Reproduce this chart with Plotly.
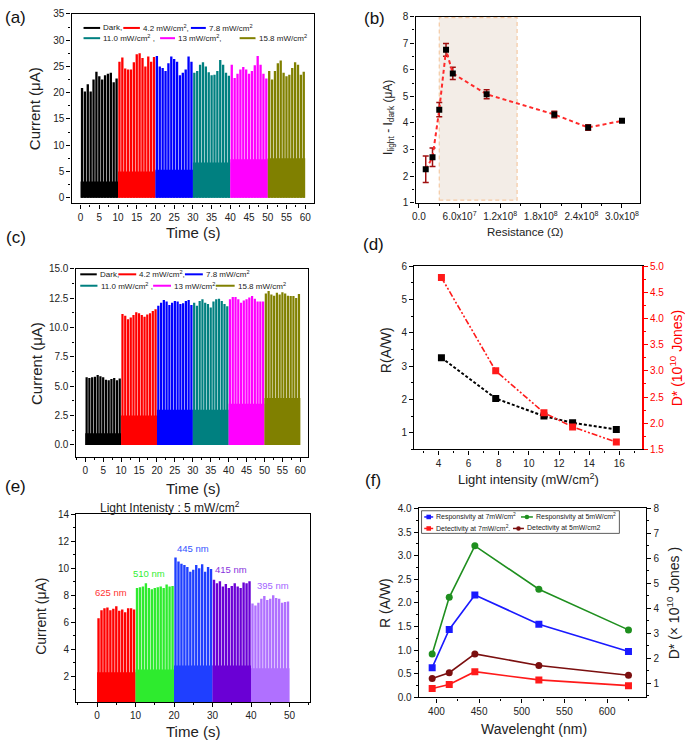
import plotly.graph_objects as go

W, H = 685, 747
FONT = "Liberation Sans"

# ------------------------------------------------------------------ data
# (a) pulse peaks (uA) for each 10 s segment, baseline level under pulses
a_dark = [20.9, 20.2, 21.6, 20.2, 22.5, 24.0, 23.1, 22.5, 23.3, 23.6, 23.8, 22.0, 22.7]
a_42 = [25.9, 26.7, 24.6, 24.4, 24.4, 25.8, 27.3, 27.5, 26.6, 25.0, 26.9, 25.9, 26.8]
a_78 = [27.0, 25.0, 24.7, 24.1, 25.6, 26.9, 26.4, 25.9, 23.3, 23.8, 24.4, 26.9, 25.9]
a_110 = [23.8, 24.1, 25.3, 25.8, 25.0, 23.9, 23.3, 23.4, 24.1, 26.2, 25.3, 23.8, 23.2]
a_13 = [25.3, 22.8, 23.6, 24.4, 24.9, 24.4, 23.6, 24.1, 25.2, 27.0, 25.3, 23.6, 22.7]
a_158 = [24.1, 22.5, 24.1, 25.6, 26.1, 23.8, 23.1, 23.4, 24.7, 25.8, 25.3, 23.4, 24.0]
a_base = [3.1, 5.0, 5.3, 6.7, 7.3, 7.5]

# (c)
c_dark = [5.75, 5.7, 5.75, 5.8, 5.95, 5.85, 5.75, 5.55, 5.5, 5.6, 5.7, 5.5, 5.65]
c_42 = [11.15, 11.0, 10.7, 10.85, 11.05, 11.3, 11.2, 11.05, 10.9, 11.1, 11.2, 11.4, 11.55]
c_78 = [11.85, 12.1, 12.33, 12.2, 11.9, 12.1, 12.25, 12.2, 12.0, 12.05, 12.25, 12.33, 11.9]
c_110 = [12.1, 11.85, 12.25, 12.4, 12.1, 12.0, 11.7, 12.2, 12.4, 12.45, 12.25, 12.0, 11.8]
c_13 = [12.4, 12.6, 12.6, 12.4, 12.1, 12.3, 12.4, 12.55, 12.67, 12.45, 12.2, 12.2, 12.2]
c_158 = [12.9, 13.1, 12.8, 12.7, 12.95, 12.8, 13.0, 12.9, 12.7, 12.67, 12.67, 12.5, 12.85]
c_base = [1.0, 2.5, 3.0, 3.0, 3.5, 4.0]

seg_start = [0, 10, 20, 30, 40, 50]
seg_labels = ["Dark,", "4.2 mW/cm<sup>2</sup>,", "7.8 mW/cm<sup>2</sup>",
              "11.0 mW/cm<sup>2</sup> ,", "13 mW/cm<sup>2</sup>,", "15.8 mW/cm<sup>2</sup>"]
seg_colors = ["#000000", "#FF0000", "#0000FF", "#008080", "#FF00FF", "#808000"]

# (b)
resistance = [1e7, 2e7, 3e7, 4e7, 5e7, 1e8, 2e8, 2.5e8, 3e8]
delta_i = [2.26, 2.71, 4.50, 6.75, 5.86, 5.08, 4.32, 3.83, 4.08]
delta_err = [0.50, 0.35, 0.27, 0.24, 0.23, 0.17, 0.12, 0.10, 0.05]
b_xticks = [0, 6e7, 1.2e8, 1.8e8, 2.4e8, 3.0e8]
b_xticktext = ["0.0", "6.0x10<sup>7</sup>", "1.2x10<sup>8</sup>", "1.8x10<sup>8</sup>",
               "2.4x10<sup>8</sup>", "3.0x10<sup>8</sup>"]
opt_window = [3e7, 1.45e8]

# (d)
intensity = [4.2, 7.8, 11.0, 12.9, 15.8]
resp_d = [3.25, 2.03, 1.50, 1.30, 1.10]
detect_d = [4.78, 3.00, 2.20, 1.93, 1.64]

# (e)
e_625 = [6.3, 6.9, 7.05, 7.1, 6.9, 7.0, 7.2, 6.85, 6.95, 6.75, 7.05, 7.05, 6.95]
e_510 = [8.55, 8.6, 8.65, 8.9, 8.55, 8.45, 8.55, 8.6, 8.65, 8.55, 8.8, 8.65, 8.7]
e_445 = [10.8, 10.5, 10.35, 10.25, 10.1, 9.75, 9.9, 10.25, 10.0, 10.3, 9.75, 10.1, 9.95]
e_415 = [9.15, 8.9, 9.05, 8.65, 8.85, 8.55, 8.7, 8.9, 8.65, 8.55, 8.95, 8.9, 9.05]
e_395 = [7.4, 7.25, 7.45, 7.75, 7.95, 7.65, 7.75, 8.0, 7.8, 7.75, 7.45, 7.5, 7.55]
e_base = [2.3, 2.5, 2.8, 2.8, 2.6]
e_start = [0, 10, 20, 30, 40]
e_labels = ["625 nm", "510 nm", "445 nm", "415 nm", "395 nm"]
e_label_x = [3.5, 13.4, 25.0, 34.9, 45.8]
e_label_y = [8.2, 9.65, 11.5, 9.9, 8.7]
e_colors = ["#FF0000", "#2EEB2E", "#1F3FFF", "#6A00D5", "#B070FF"]
e_text_colors = ["#FF3333", "#33EE33", "#3355FF", "#8833DD", "#A366FF"]

# (f)
wavelength = [395, 415, 445, 520, 625]
resp_7 = [0.63, 1.44, 2.17, 1.55, 0.97]
resp_5 = [0.92, 2.12, 3.21, 2.29, 1.43]
det_7 = [0.80, 0.96, 1.47, 1.14, 0.91]
det_5 = [1.20, 1.43, 2.18, 1.72, 1.33]
f_labels = ["Responsivity at 7mW/cm<sup>2</sup>", "Responsivity at 5mW/cm<sup>2</sup>",
            "Detectivity at 7mW/cm<sup>2</sup>.", "Detectivity at 5mW/cm2"]
f_colors = ["#1A1AFF", "#1F8F1F", "#FF1A1A", "#7B0F0F"]

# ------------------------------------------------------------------ helpers
def px(x):
    return x / W


def py(y):
    return 1 - y / H


boxes = {  # pixel boxes: left, right, top, bottom
    "a": (68, 312, 8, 200.7),
    "b": (414, 640, 10.7, 200),
    "c": (72, 306, 267, 458),
    "d": (412.7, 641.7, 264.3, 450.7),
    "e": (72.7, 307.3, 516.7, 707.3),
    "f": (417.3, 646, 510.7, 702.7),
}


def xdom(k):
    l, r, t, b = boxes[k]
    return [px(l), px(r)]


def ydom(k):
    l, r, t, b = boxes[k]
    return [py(b), py(t)]


def axis(**kw):
    d = dict(showline=True, linecolor="black", linewidth=1.4, mirror=True,
             ticks="outside", ticklen=4, tickwidth=1, tickcolor="black",
             showgrid=False, zeroline=False,
             tickfont=dict(family=FONT, size=10, color="#222"))
    d.update(kw)
    return d


def minor(dt, t0=0, color="black"):
    return dict(ticks="outside", ticklen=2, tickwidth=1, tickcolor=color, dtick=dt, tick0=t0)


fig = go.Figure()


def add_pulses(t0, span, peaks, base, color, xa, ya, gap):
    n = len(peaks)
    dt = span / n
    xs = [t0 + (i + 0.5) * dt for i in range(n)]
    fig.add_trace(go.Bar(x=xs, y=peaks, width=dt - gap, marker=dict(color=color, line_width=0),
                         xaxis=xa, yaxis=ya, showlegend=False, hoverinfo="skip"))
    fig.add_trace(go.Bar(x=[t0 + span / 2], y=[base], width=span,
                         marker=dict(color=color, line_width=0),
                         xaxis=xa, yaxis=ya, showlegend=False, hoverinfo="skip"))


# (a)
for t0, pk, bs, col in zip(seg_start, [a_dark, a_42, a_78, a_110, a_13, a_158], a_base, seg_colors):
    add_pulses(t0, 10, pk, bs, col, "x", "y", 0.15)
# (c)
for t0, pk, bs, col in zip(seg_start, [c_dark, c_42, c_78, c_110, c_13, c_158], c_base, seg_colors):
    add_pulses(t0, 10, pk, bs, col, "x3", "y3", 0.15)
# (e)
for t0, pk, bs, col in zip(e_start, [e_625, e_510, e_445, e_415, e_395], e_base, e_colors):
    add_pulses(t0, 10, pk, bs, col, "x5", "y5", 0.15)

# (b)
fig.add_trace(go.Scatter(
    x=resistance, y=delta_i, mode="lines+markers", xaxis="x2", yaxis="y2",
    line=dict(color="#FF2A2A", width=2, dash="4px,3px"),
    marker=dict(symbol="square", size=6, color="black"),
    error_y=dict(type="data", array=delta_err, color="#A01010", thickness=1.5, width=3),
    showlegend=False))

# (d)
fig.add_trace(go.Scatter(
    x=intensity, y=resp_d, mode="lines+markers", xaxis="x4", yaxis="y4",
    line=dict(color="black", width=2, dash="3px,2px"),
    marker=dict(symbol="square", size=7, color="black"), showlegend=False))
fig.add_trace(go.Scatter(
    x=intensity, y=detect_d, mode="lines+markers", xaxis="x4", yaxis="y7",
    line=dict(color="#FF1A1A", width=1.6, dash="6px,2px,2px,2px,2px,2px"),
    marker=dict(symbol="square", size=7, color="#FF1A1A"), showlegend=False))

# (f)
fig.add_trace(go.Scatter(x=wavelength, y=resp_7, mode="lines+markers", xaxis="x6", yaxis="y6",
                         line=dict(color=f_colors[0], width=1.6),
                         marker=dict(symbol="square", size=7, color=f_colors[0]), showlegend=False))
fig.add_trace(go.Scatter(x=wavelength, y=resp_5, mode="lines+markers", xaxis="x6", yaxis="y6",
                         line=dict(color=f_colors[1], width=1.6),
                         marker=dict(symbol="circle", size=7, color=f_colors[1]), showlegend=False))
fig.add_trace(go.Scatter(x=wavelength, y=det_7, mode="lines+markers", xaxis="x6", yaxis="y8",
                         line=dict(color=f_colors[2], width=1.6),
                         marker=dict(symbol="square", size=7, color=f_colors[2]), showlegend=False))
fig.add_trace(go.Scatter(x=wavelength, y=det_5, mode="lines+markers", xaxis="x6", yaxis="y8",
                         line=dict(color=f_colors[3], width=1.6),
                         marker=dict(symbol="circle", size=7, color=f_colors[3]), showlegend=False))

# ------------------------------------------------------------------ axes
fig.update_layout(
    width=W, height=H, margin=dict(l=0, r=0, t=0, b=0),
    paper_bgcolor="white", plot_bgcolor="white", barmode="overlay", showlegend=False,
    font=dict(family=FONT, color="#222"),
    xaxis=axis(domain=xdom("a"), anchor="y", range=[-2.4, 62.4], dtick=5, tick0=0, minor=minor(2.5)),
    yaxis=axis(domain=ydom("a"), anchor="x", range=[-1.1, 35], dtick=5, tick0=0, minor=minor(2.5)),
    xaxis2=axis(domain=xdom("b"), anchor="y2", range=[-0.05e8, 3.27e8], tickmode="array",
                tickvals=b_xticks, ticktext=b_xticktext, minor=minor(3e7)),
    yaxis2=axis(domain=ydom("b"), anchor="x2", range=[1, 8], dtick=1, tick0=0, minor=minor(0.5)),
    xaxis3=axis(domain=xdom("c"), anchor="y3", range=[-2.7, 62.2], dtick=5, tick0=0, minor=minor(2.5)),
    yaxis3=axis(domain=ydom("c"), anchor="x3", range=[-1, 15], dtick=2.5, tick0=0,
                tickformat=".1f", minor=minor(1.25)),
    xaxis4=axis(domain=xdom("d"), anchor="y4", range=[2.4, 17.5], dtick=2, tick0=0, minor=minor(1)),
    yaxis4=axis(domain=ydom("d"), anchor="x4", range=[0.5, 6], dtick=1, tick0=0,
                mirror=False, minor=minor(0.5)),
    yaxis7=axis(overlaying="y4", anchor="x4", side="right", range=[1.5, 5.0], dtick=0.5, tick0=0,
                tickformat=".1f", linecolor="#FF0000", linewidth=2, tickcolor="#FF0000",
                mirror=False, tickfont=dict(family=FONT, size=10, color="#FF0000"),
                minor=minor(0.25, color="#FF0000")),
    xaxis5=axis(domain=xdom("e"), anchor="y5", range=[-5.4, 55.2], dtick=10, tick0=0, minor=minor(5)),
    yaxis5=axis(domain=ydom("e"), anchor="x5", range=[0.1, 14], tickmode="array",
                tickvals=[2, 4, 6, 8, 10, 12, 14], minor=minor(1)),
    xaxis6=axis(domain=xdom("f"), anchor="y6", range=[379.4, 645.8], dtick=50, tick0=0, minor=minor(25)),
    yaxis6=axis(domain=ydom("f"), anchor="x6", range=[0, 4.0], dtick=0.5, tick0=0,
                tickformat=".1f", mirror=False, minor=minor(0.25)),
    yaxis8=axis(overlaying="y6", anchor="x6", side="right", range=[0.44, 8], tickmode="array",
                tickvals=[1, 2, 3, 4, 5, 6, 7, 8], mirror=False, minor=minor(0.5, 0.5)),
)

# ------------------------------------------------------------------ shapes & text
shapes = []
annots = []


def ann(text, x, y, size, color="#222", angle=0, xanchor="center"):
    annots.append(dict(text=text, x=px(x), y=py(y), xref="paper", yref="paper",
                       showarrow=False, textangle=angle, xanchor=xanchor, yanchor="middle",
                       font=dict(family=FONT, size=size, color=color)))


# shaded window in (b)
shapes.append(dict(type="rect", xref="x2", yref="y2", x0=opt_window[0], x1=opt_window[1],
                   y0=1.1, y1=7.96, fillcolor="#F3EDE7", layer="below",
                   line=dict(color="#F5C9A2", width=1.2, dash="4px,3px")))

# manual legends for (a) and (c)
leg_a = [(80, 96.7, 22.3), (120, 136.7, 22.3), (188, 203, 22.3),
         (80, 96.7, 32.7), (157, 172, 32.7), (237, 253, 32.7)]
leg_c = [(76.7, 93.3, 272.7), (115, 133, 272.7), (182, 200, 272.7),
         (76.7, 94, 284.3), (150, 168, 284.3), (213, 232, 284.3)]
for pos in (leg_a, leg_c):
    for (x0, x1, y), lab, col in zip(pos, seg_labels, seg_colors):
        shapes.append(dict(type="line", xref="paper", yref="paper", x0=px(x0), x1=px(x1),
                           y0=py(y), y1=py(y), line=dict(color=col, width=2)))
        ann(lab, x1 + 1.2, y, 8, xanchor="left")

# legend for (f)
shapes.append(dict(type="rect", xref="paper", yref="paper", x0=px(420), x1=px(619),
                   y0=py(536), y1=py(513), line=dict(color="#333", width=0.8)))
leg_f = [(422.7, 431.7, 519.3, "square"), (520, 532, 519.3, "circle"),
         (422.7, 431.7, 531, "square"), (512, 523, 531, "circle")]
for (x0, x1, y, sym), lab, col in zip(leg_f, f_labels, f_colors):
    shapes.append(dict(type="line", xref="paper", yref="paper", x0=px(x0), x1=px(x1),
                       y0=py(y), y1=py(y), line=dict(color=col, width=1.5)))
    xc = (x0 + x1) / 2
    shapes.append(dict(type="rect" if sym == "square" else "circle", xref="paper", yref="paper",
                       x0=px(xc - 2.3), x1=px(xc + 2.3), y0=py(y + 2.3), y1=py(y - 2.3),
                       fillcolor=col, line=dict(color=col, width=0)))
    ann(lab, x1 + 1.2, y, 7, xanchor="left")

# panel labels
for lab, x, y in [("(a)", 12, 12), ("(b)", 373, 13), ("(c)", 12, 235),
                  ("(d)", 372, 242), ("(e)", 12, 488), ("(f)", 371, 482)]:
    ann(lab, x, y, 17, color="#111")

# axis titles
ann("Current (\u03bcA)", 31, 104, 15, angle=-90)
ann("Time (s)", 190, 230, 15)
ann("Current (\u03bcA)", 32, 363, 15, angle=-90)
ann("Time (s)", 190, 490, 15)
ann("Current (\u03bcA)", 37, 620, 14, angle=-90)
ann("Time (s)", 190, 737, 15)
ann("Light Intenisty : 5 mW/cm<sup>2</sup>", 167, 509, 12)
ann("I<sub>light</sub> - I<sub>dark</sub> (\u03bcA)", 387, 113, 12, angle=-90)
ann("Resistance (\u03a9)", 525, 230, 11.5)
ann("R(A/W)", 385, 350, 14, angle=-90)
ann("D* (10<sup>10</sup> Jones)", 676, 358, 14, color="#FF0000", angle=-90)
ann("Light intensity (mW/cm<sup>2</sup>)", 528, 481, 13)
ann("R (A/W)", 383, 607, 14, angle=-90)
ann("D* (\u00d7 10<sup>10</sup> Jones )", 673, 607, 14, angle=-90)
ann("Wavelenght (nm)", 533, 735, 14)

# wavelength labels in (e)
for lab, x, y, col in zip(e_labels, e_label_x, e_label_y, e_text_colors):
    annots.append(dict(text=lab, x=x, y=y, xref="x5", yref="y5", showarrow=False,
                       font=dict(family=FONT, size=9.5, color=col)))

fig.update_layout(shapes=shapes, annotations=annots)
fig.write_html("out.html", config={"displayModeBar": False},
               post_script="document.body.style.margin='0px';document.body.style.padding='0px';")
